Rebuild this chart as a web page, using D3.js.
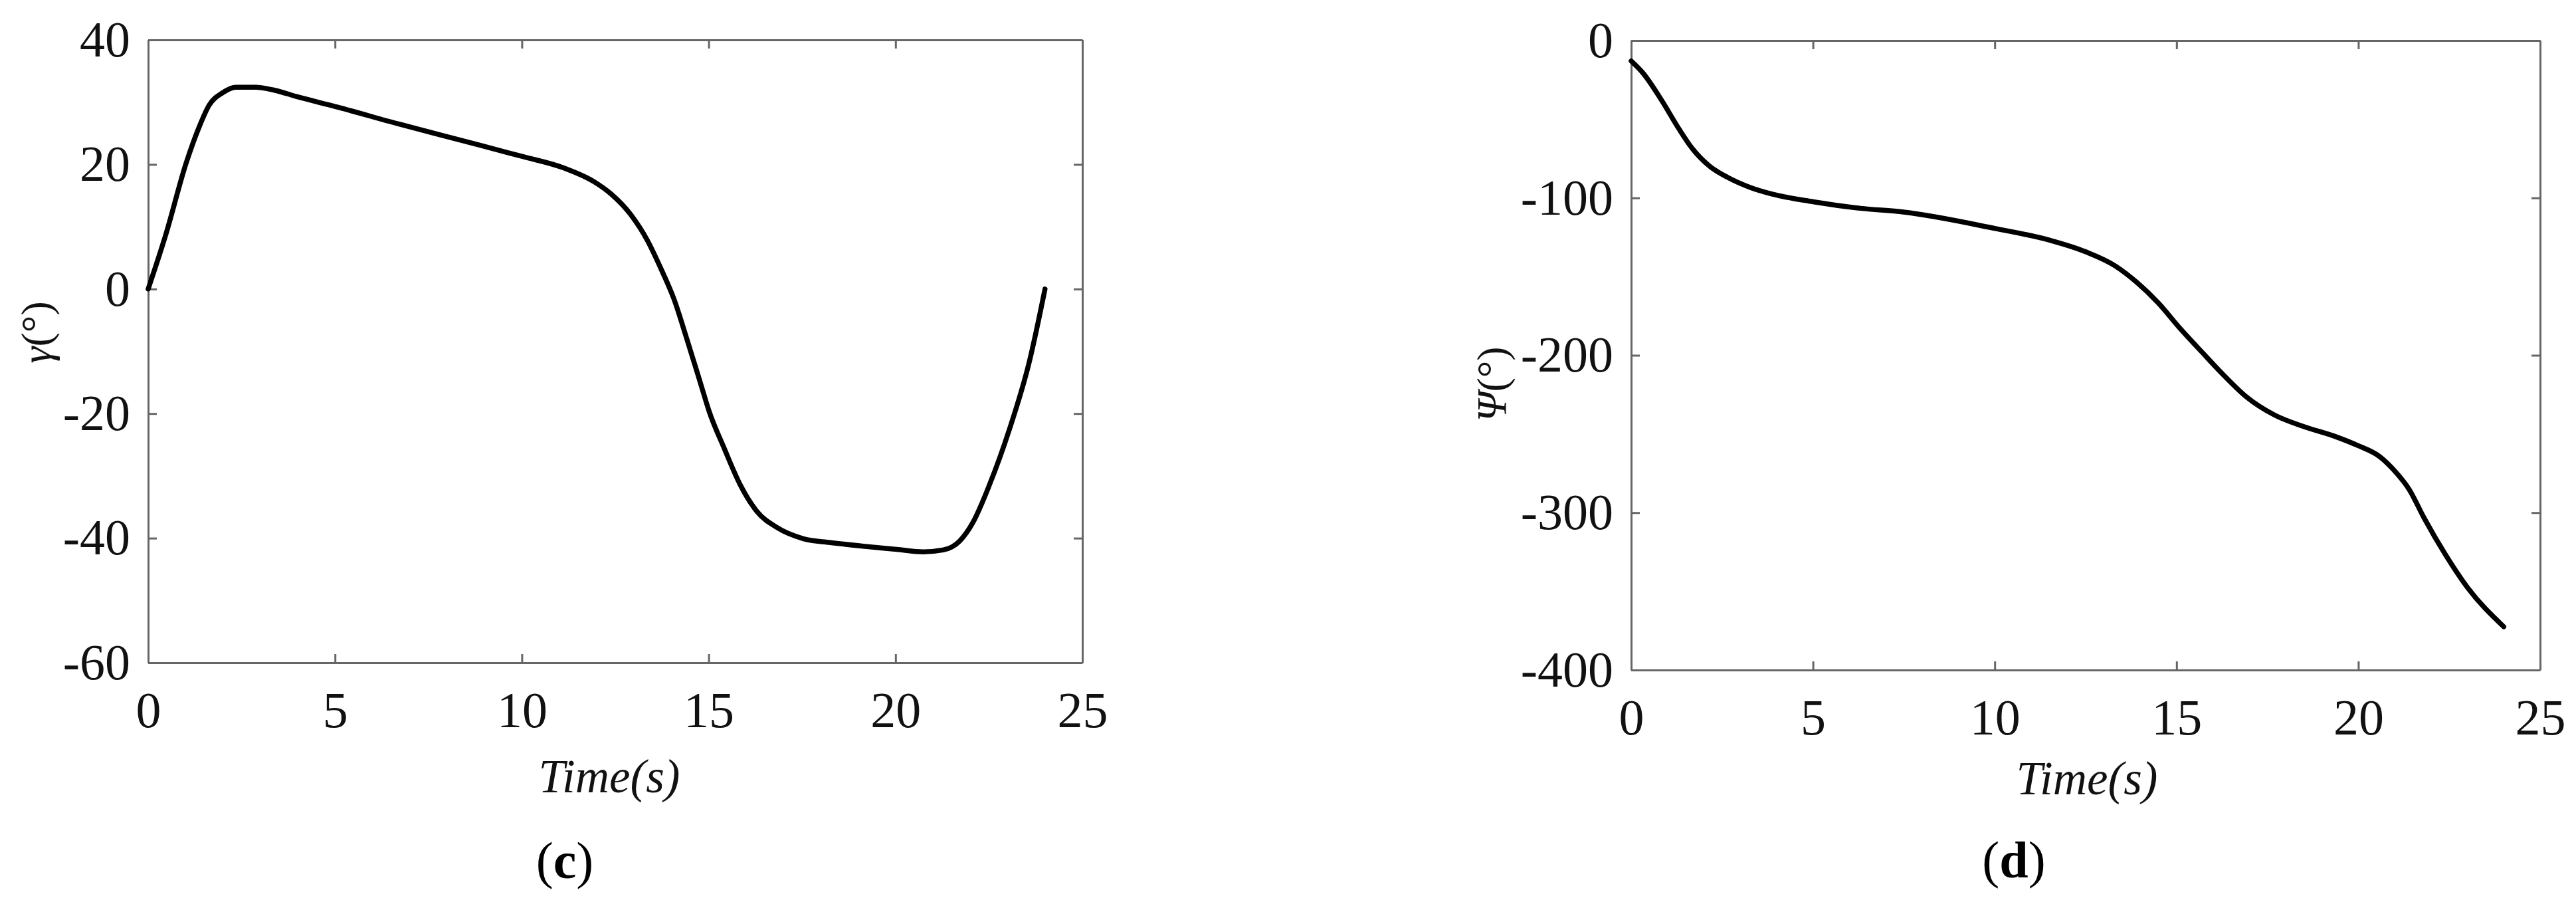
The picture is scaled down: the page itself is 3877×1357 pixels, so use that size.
<!DOCTYPE html>
<html>
<head>
<meta charset="utf-8">
<script src="https://cdn.jsdelivr.net/npm/d3@7"></script>
<style>
    body { margin: 0; background: #fff; }
    svg { display: block; }
    .tick text { font-family: "Liberation Serif", "Times New Roman", serif; fill: #111; }
</style>
</head>
<body>
<svg id="chart"></svg>
<script>
// data
var gammaTime = [0, 0.48, 1.01, 1.37, 1.63, 1.99, 2.35, 2.88, 3.32, 4.03, 5.01, 6.7, 8.48, 10.0, 11.14, 11.94, 12.38, 12.92, 13.36, 13.72, 14.07, 14.43, 14.78, 15.01, 15.41, 15.85, 16.29, 16.83, 17.54, 18.25, 19.14, 20.03, 20.74, 21.27, 21.71, 22.07, 22.51, 23.05, 23.58, 24.0];
var gammaValues = [0, 8.9, 20.1, 26.1, 29.5, 31.5, 32.4, 32.4, 32.0, 30.8, 29.3, 26.5, 23.7, 21.3, 19.4, 17.2, 15.3, 11.9, 7.8, 3.3, -1.6, -8.3, -15.1, -19.6, -25.5, -31.5, -35.7, -38.3, -40.1, -40.7, -41.3, -41.8, -42.2, -41.9, -40.5, -37.5, -31.5, -22.5, -11.7, 0];

var psiTime = [0, 0.33, 0.83, 1.31, 1.68, 2.16, 2.65, 3.26, 3.87, 5.0, 6.3, 7.49, 10.0, 11.5, 12.5, 13.3, 13.9, 14.5, 15.1, 15.7, 16.3, 16.9, 17.7, 18.5, 19.4, 19.97, 20.6, 21.0, 21.4, 21.8, 22.4, 23.0, 24.0];
var psiValues = [-13, -20.8, -37.7, -56, -68.6, -79.9, -86.9, -93.2, -97.5, -102.4, -106.6, -109, -119.4, -126.8, -134.2, -143, -153.5, -166.8, -183, -198, -212.7, -226, -238, -245.3, -251.9, -257.2, -264.6, -273.5, -285.3, -303, -326.8, -347.5, -372.5];

var xTicks = [0, 5, 10, 15, 20, 25];
var gammaTicks = [40, 20, 0, -20, -40, -60];
var psiTicks = [0, -100, -200, -300, -400];

var W = 3877, H = 1357;
var fontTick = 76;
var serif = "'Liberation Serif', 'Times New Roman', serif";

var svg = d3.select("#chart")
    .attr("width", W)
    .attr("height", H);

// plain hyphen for negatives, like the original figure
var plain = function(d){ return String(d); };

function drawPanel(p){
    var width = p.x1 - p.x0;
    var height = p.y1 - p.y0;

    var xScale = d3.scaleLinear().domain([0, 25]).range([0, width]);
    var yScale = d3.scaleLinear()
        .domain([d3.min(p.yTicks), d3.max(p.yTicks)])
        .range([height, 0]);

    var g = svg.append("g")
        .attr("transform", "translate(" + p.x0 + "," + p.y0 + ")");

    // box axes, ticks pointing inward
    var xAxisB = d3.axisBottom(xScale).tickValues(xTicks).tickSize(-13).tickSizeOuter(0).tickPadding(43).tickFormat(plain);
    var xAxisT = d3.axisTop(xScale).tickValues(xTicks).tickSize(-13).tickSizeOuter(0).tickFormat("");
    var yAxisL = d3.axisLeft(yScale).tickValues(p.yTicks).tickSize(-13).tickSizeOuter(0).tickPadding(27).tickFormat(plain);
    var yAxisR = d3.axisRight(yScale).tickValues(p.yTicks).tickSize(-13).tickSizeOuter(0).tickFormat("");

    var axes = [
        g.append("g").attr("transform", "translate(0," + height + ")").call(xAxisB),
        g.append("g").call(xAxisT),
        g.append("g").call(yAxisL),
        g.append("g").attr("transform", "translate(" + width + ",0)").call(yAxisR)
    ];
    axes.forEach(function(a){
        a.selectAll(".domain, .tick line")
            .attr("stroke", "#666")
            .attr("stroke-width", 3);
        a.selectAll(".tick text")
            .style("font-size", fontTick + "px");
    });

    var line = d3.line()
        .x(function(d, i){ return xScale(p.t[i]); })
        .y(function(d){ return yScale(d); })
        .curve(d3.curveMonotoneX);

    g.append("path")
        .attr("d", line(p.v))
        .attr("fill", "none")
        .attr("stroke", "#000")
        .attr("stroke-width", 7.5)
        .attr("stroke-linejoin", "round")
        .attr("stroke-linecap", "round");

    // y label
    var yl = svg.append("text")
        .attr("transform", "translate(" + p.ylabX + "," + p.ylabY + ") rotate(-90)")
        .attr("text-anchor", "middle")
        .attr("dominant-baseline", "central")
        .style("font-family", serif)
        .style("font-size", "64px")
        .attr("fill", "#111");
    yl.append("tspan").style("font-style", "italic").text(p.ylabSym);
    yl.append("tspan").text("(°)");

    // x label
    svg.append("text")
        .attr("x", p.xlabX)
        .attr("y", p.xlabY)
        .attr("text-anchor", "middle")
        .style("font-family", serif)
        .style("font-size", "71px")
        .style("font-style", "italic")
        .attr("fill", "#111")
        .text("Time(s)");

    // sub-figure tag
    var tag = svg.append("text")
        .attr("x", p.tagX)
        .attr("y", p.tagY)
        .attr("text-anchor", "middle")
        .style("font-family", serif)
        .style("font-size", "78px")
        .attr("fill", "#000");
    tag.append("tspan").text("(");
    tag.append("tspan").style("font-weight", "bold").text(p.tag);
    tag.append("tspan").text(")");
}

drawPanel({
    x0: 223, x1: 1629, y0: 60, y1: 997,
    yTicks: gammaTicks, t: gammaTime, v: gammaValues,
    ylabSym: "γ", ylabX: 54, ylabY: 500,
    xlabX: 917, xlabY: 1192,
    tag: "c", tagX: 850, tagY: 1321
});

drawPanel({
    x0: 2455, x1: 3823, y0: 61, y1: 1008,
    yTicks: psiTicks, t: psiTime, v: psiValues,
    ylabSym: "Ψ", ylabX: 2245, ylabY: 578,
    xlabX: 3141, xlabY: 1195,
    tag: "d", tagX: 3031, tagY: 1320
});
</script>
</body>
</html>
